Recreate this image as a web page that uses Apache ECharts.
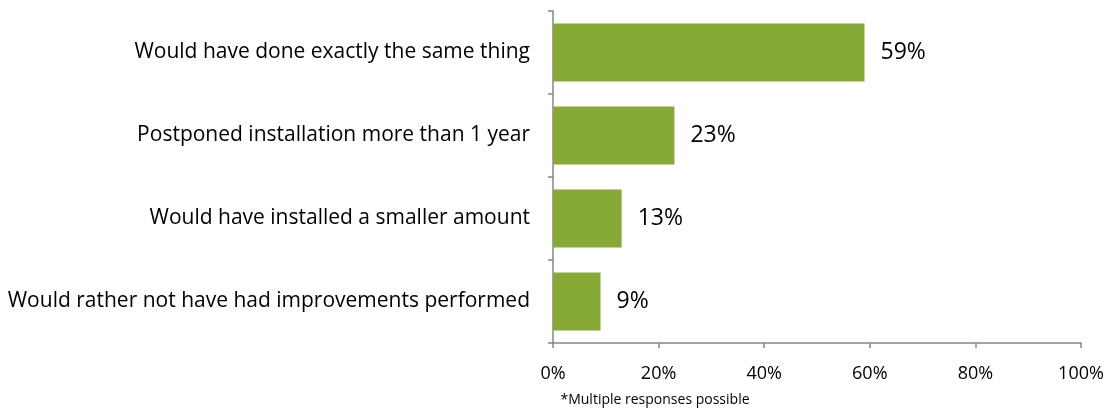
<!DOCTYPE html>
<html><head><meta charset="utf-8">
<script src="https://cdn.jsdelivr.net/npm/echarts@6/dist/echarts.min.js"></script>
<style>html,body{margin:0;padding:0;background:#fff}#c{width:1108px;height:409px}</style>
</head><body><div id="c"></div>
<script>
const categories = ["Would have done exactly the same thing","Postponed installation more than 1 year","Would have installed a smaller amount","Would rather not have had improvements performed"];
const values = [59, 23, 13, 9];
const xTicks = [0, 20, 40, 60, 80, 100];
const footnote = "*Multiple responses possible";
const FONT = "Open Sans";
const chart = echarts.init(document.getElementById('c'));
chart.setOption({
  animation: false,
  grid: {left: 553, right: 27, top: 11, bottom: 66, containLabel: false},
  graphic: [{type: 'text', x: 655, y: 400, style: {text: footnote, font: '14px "' + FONT + '"', fill: '#000', align: 'center', verticalAlign: 'middle'}}],
  xAxis: {
    type: 'value', min: 0, max: 100, interval: 20,
    axisLine: {show: true, lineStyle: {color: '#868686', width: 1.5}},
    axisTick: {show: true, length: 5, lineStyle: {color: '#868686', width: 1.5}},
    splitLine: {show: false},
    axisLabel: {formatter: v => xTicks.includes(v) ? v + '%' : '', color: '#000', fontFamily: FONT, fontSize: 18, margin: 22}
  },
  yAxis: {
    type: 'category', data: categories, inverse: true,
    axisLine: {show: true, lineStyle: {color: '#868686', width: 1.5}},
    axisTick: {show: true, length: 5, inside: false, lineStyle: {color: '#868686', width: 1.5}},
    axisLabel: {color: '#000', fontFamily: FONT, fontSize: 21, margin: 23}
  },
  series: [{
    type: 'bar', data: values, barCategoryGap: '30%',
    itemStyle: {color: '#87AA37'},
    label: {show: true, position: 'right', distance: 16, formatter: p => p.value + '%', color: '#000', fontFamily: FONT, fontSize: 23}
  }]
});
</script></body></html>
